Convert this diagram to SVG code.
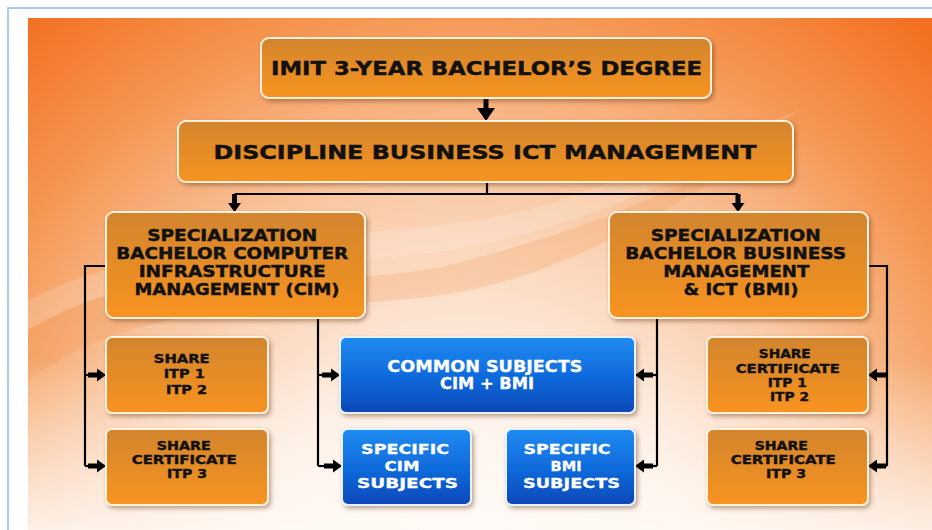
<svg xmlns="http://www.w3.org/2000/svg" width="932" height="530" viewBox="0 0 932 530">
<defs>
  <radialGradient id="bg" gradientUnits="userSpaceOnUse" cx="470" cy="560" r="700">
    <stop offset="0" stop-color="#fffbf7"/>
    <stop offset="0.3" stop-color="#fdebdd"/>
    <stop offset="0.55" stop-color="#f9c8a3"/>
    <stop offset="0.8" stop-color="#f59550"/>
    <stop offset="1" stop-color="#f37021"/>
  </radialGradient>
  <linearGradient id="fade" gradientUnits="userSpaceOnUse" x1="0" y1="360" x2="0" y2="530">
    <stop offset="0" stop-color="#fffaf6" stop-opacity="0"/>
    <stop offset="1" stop-color="#fffaf6" stop-opacity="0.85"/>
  </linearGradient>
  <linearGradient id="og" x1="0" y1="0" x2="0" y2="1">
    <stop offset="0" stop-color="#d2852f"/>
    <stop offset="1" stop-color="#f8931f"/>
  </linearGradient>
  <linearGradient id="bl" x1="0" y1="0" x2="0" y2="1">
    <stop offset="0" stop-color="#1f8cf2"/>
    <stop offset="0.55" stop-color="#0f68da"/>
    <stop offset="1" stop-color="#0a48b8"/>
  </linearGradient>
  <filter id="sh" x="-10%" y="-10%" width="130%" height="140%">
    <feDropShadow dx="2" dy="2.5" stdDeviation="2" flood-color="#5a2a00" flood-opacity="0.4"/>
  </filter>
  <marker id="arr" markerUnits="userSpaceOnUse" viewBox="-20 -8 21 16" markerWidth="21" markerHeight="16" refX="0" refY="0" orient="auto">
    <path d="M-18,-2.5 H-9 V-6.5 L0,0 L-9,6.5 V2.5 H-18 Z" fill="#000"/>
  </marker>
  <marker id="big" markerUnits="userSpaceOnUse" viewBox="-24 -10 25 20" markerWidth="25" markerHeight="20" refX="0" refY="0" orient="auto">
    <path d="M-23,-2.5 H-13 V-9 L0,0 L-13,9 V2.5 H-23 Z" fill="#000"/>
  </marker>
  <style>
    .ob { fill: url(#og); stroke: #fff1dc; stroke-width: 2; filter: url(#sh); }
    .bb { fill: url(#bl); stroke: #e8f2ff; stroke-width: 2; filter: url(#sh); }
    .t { font-family: "DejaVu Sans", "Liberation Sans", sans-serif; font-weight: bold; text-anchor: middle; fill: #111; stroke: #111; stroke-width: 0.45; }
    .w { fill: #fff; stroke: #fff; stroke-width: 0.3; }
    .c { fill: none; stroke: #000; stroke-width: 2.2; }
    .a { fill: none; stroke: #000; stroke-width: 2.2; marker-end: url(#arr); }
  </style>
</defs>

<rect width="932" height="530" fill="#fff"/>
<path d="M8 530 V8 H932" fill="none" stroke="#8cbbe9" stroke-width="1.5"/>
<rect x="28" y="18" width="904" height="512" fill="url(#bg)"/>
<path d="M28 330 C 150 250, 330 300, 470 260 C 560 235, 620 215, 760 150 C 640 230, 560 270, 470 290 C 330 320, 170 280, 28 380 Z" fill="#ef8a3c" opacity="0.2"/>
<path d="M28 300 C 200 215, 420 250, 560 200 C 650 170, 720 140, 800 110 C 700 170, 600 220, 480 245 C 330 275, 180 245, 28 330 Z" fill="#ffffff" opacity="0.16"/>
<rect x="28" y="360" width="904" height="170" fill="url(#fade)"/>

<g id="connectors">
  <path d="M486 98 V121" fill="none" stroke="none" marker-end="url(#big)"/>
  <path class="c" d="M487 182 V194 M234.5 194 H738"/>
  <path class="a" d="M234.5 194 V212"/>
  <path class="a" d="M738 194 V212"/>
  <path class="c" d="M106 266 H85 V466"/>
  <path class="a" d="M85 375 H106"/>
  <path class="a" d="M85 466 H106"/>
  <path class="c" d="M318 318 V466"/>
  <path class="a" d="M318 375 H340"/>
  <path class="a" d="M318 466 H342"/>
  <path class="c" d="M657 318 V466"/>
  <path class="a" d="M657 375 H635"/>
  <path class="a" d="M657 466 H635"/>
  <path class="c" d="M868 266 H887 V466"/>
  <path class="a" d="M887 375 H868"/>
  <path class="a" d="M887 466 H868"/>
</g>

<g id="degree">
  <rect class="ob" x="261" y="38" width="450" height="60" rx="8"/>
  <text class="t" x="486.5" y="75" font-size="19" textLength="431" lengthAdjust="spacingAndGlyphs">IMIT 3-YEAR BACHELOR’S DEGREE</text>
</g>

<g id="discipline">
  <rect class="ob" x="178" y="121" width="615" height="61" rx="8"/>
  <text class="t" x="485" y="159" font-size="20" textLength="543" lengthAdjust="spacingAndGlyphs">DISCIPLINE BUSINESS ICT MANAGEMENT</text>
</g>

<g id="spec-cim">
  <rect class="ob" x="106" y="212" width="259" height="106" rx="8"/>
  <text class="t" font-size="16">
    <tspan x="235" y="241" textLength="170" lengthAdjust="spacingAndGlyphs">SPECIALIZATION</tspan>
    <tspan x="235" y="259" textLength="232" lengthAdjust="spacingAndGlyphs">BACHELOR COMPUTER</tspan>
    <tspan x="235" y="277" textLength="187" lengthAdjust="spacingAndGlyphs">INFRASTRUCTURE</tspan>
    <tspan x="237" y="295" textLength="205" lengthAdjust="spacingAndGlyphs">MANAGEMENT (CIM)</tspan>
  </text>
</g>

<g id="spec-bmi">
  <rect class="ob" x="609" y="212" width="259" height="106" rx="8"/>
  <text class="t" font-size="16">
    <tspan x="738.5" y="241" textLength="170" lengthAdjust="spacingAndGlyphs">SPECIALIZATION</tspan>
    <tspan x="738.5" y="259" textLength="221" lengthAdjust="spacingAndGlyphs">BACHELOR BUSINESS</tspan>
    <tspan x="739" y="277" textLength="146" lengthAdjust="spacingAndGlyphs">MANAGEMENT</tspan>
    <tspan x="741" y="295" textLength="115" lengthAdjust="spacingAndGlyphs">&amp; ICT (BMI)</tspan>
  </text>
</g>

<g id="share-itp12-cim">
  <rect class="ob" x="106" y="337" width="162" height="76" rx="6"/>
  <text class="t" font-size="13">
    <tspan x="184" y="363" textLength="56" lengthAdjust="spacingAndGlyphs">SHARE</tspan>
    <tspan x="186.5" y="378" textLength="41" lengthAdjust="spacingAndGlyphs">ITP 1</tspan>
    <tspan x="186.5" y="394" textLength="41" lengthAdjust="spacingAndGlyphs">ITP 2</tspan>
  </text>
</g>

<g id="share-itp3-cim">
  <rect class="ob" x="106" y="429" width="162" height="76" rx="6"/>
  <text class="t" font-size="13">
    <tspan x="186" y="450" textLength="54" lengthAdjust="spacingAndGlyphs">SHARE</tspan>
    <tspan x="186.5" y="464" textLength="105" lengthAdjust="spacingAndGlyphs">CERTIFICATE</tspan>
    <tspan x="187" y="478" textLength="40" lengthAdjust="spacingAndGlyphs">ITP 3</tspan>
  </text>
</g>

<g id="common">
  <rect class="bb" x="340" y="337" width="295" height="76" rx="6"/>
  <text class="t w" font-size="15">
    <tspan x="487.5" y="372" textLength="195" lengthAdjust="spacingAndGlyphs">COMMON SUBJECTS</tspan>
    <tspan x="487" y="389" textLength="94" lengthAdjust="spacingAndGlyphs">CIM + BMI</tspan>
  </text>
</g>

<g id="specific-cim">
  <rect class="bb" x="342" y="429" width="129" height="76" rx="6"/>
  <text class="t w" font-size="14">
    <tspan x="407.5" y="454" textLength="88" lengthAdjust="spacingAndGlyphs">SPECIFIC</tspan>
    <tspan x="404.5" y="471" textLength="35" lengthAdjust="spacingAndGlyphs">CIM</tspan>
    <tspan x="407.5" y="488" textLength="101" lengthAdjust="spacingAndGlyphs">SUBJECTS</tspan>
  </text>
</g>

<g id="specific-bmi">
  <rect class="bb" x="506" y="429" width="129" height="76" rx="6"/>
  <text class="t w" font-size="14">
    <tspan x="569.5" y="454" textLength="87" lengthAdjust="spacingAndGlyphs">SPECIFIC</tspan>
    <tspan x="568.5" y="471" textLength="31" lengthAdjust="spacingAndGlyphs">BMI</tspan>
    <tspan x="571.5" y="488" textLength="97" lengthAdjust="spacingAndGlyphs">SUBJECTS</tspan>
  </text>
</g>

<g id="share-itp12-bmi">
  <rect class="ob" x="707" y="337" width="161" height="76" rx="6"/>
  <text class="t" font-size="13">
    <tspan x="787" y="358" textLength="52" lengthAdjust="spacingAndGlyphs">SHARE</tspan>
    <tspan x="790" y="373" textLength="104" lengthAdjust="spacingAndGlyphs">CERTIFICATE</tspan>
    <tspan x="789.5" y="387" textLength="39" lengthAdjust="spacingAndGlyphs">ITP 1</tspan>
    <tspan x="789.5" y="401" textLength="39" lengthAdjust="spacingAndGlyphs">ITP 2</tspan>
  </text>
</g>

<g id="share-itp3-bmi">
  <rect class="ob" x="707" y="429" width="161" height="76" rx="6"/>
  <text class="t" font-size="13">
    <tspan x="783.5" y="450" textLength="53" lengthAdjust="spacingAndGlyphs">SHARE</tspan>
    <tspan x="785.5" y="464" textLength="105" lengthAdjust="spacingAndGlyphs">CERTIFICATE</tspan>
    <tspan x="786" y="478" textLength="40" lengthAdjust="spacingAndGlyphs">ITP 3</tspan>
  </text>
</g>
</svg>
